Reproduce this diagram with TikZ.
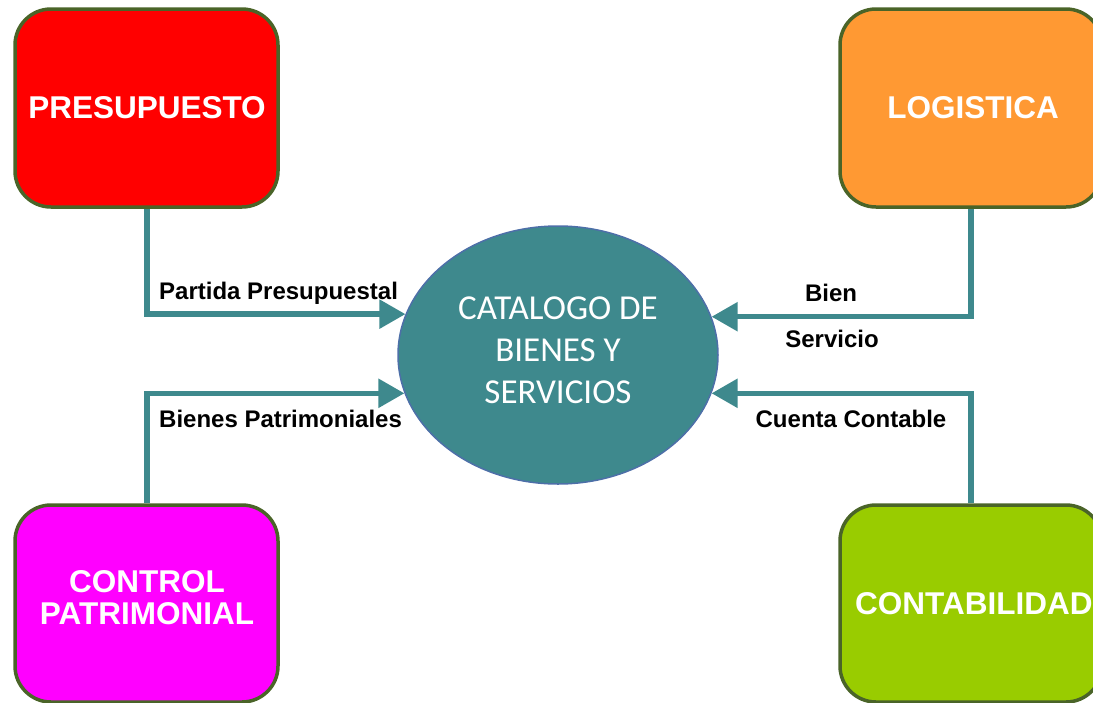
\documentclass[tikz,border=0pt]{standalone}
\usepackage{fontspec}
\setmainfont{Liberation Sans}
\newfontfamily\calib{Carlito}
\usetikzlibrary{shapes.geometric,arrows.meta}
\definecolor{boxborder}{HTML}{4A6428}
\definecolor{tealc}{HTML}{3E898D}
\definecolor{ellborder}{HTML}{4D6FA8}
\definecolor{orangec}{HTML}{FF9933}
\definecolor{greenc}{HTML}{99CC00}
\definecolor{magentac}{HTML}{FF00FF}
\definecolor{redc}{HTML}{FF0000}
\tikzset{
  unitbox/.style={draw=boxborder, line width=3.5pt, rounded corners=36pt},
  boxtext/.style={text=white, font=\bfseries\fontsize{31.5}{32}\selectfont, align=center, inner sep=0pt},
  conn/.style={draw=tealc, line width=5.5pt, -{Triangle[length=26pt,width=28pt]}},
  lbl/.style={font=\bfseries\fontsize{24}{26}\selectfont, inner sep=0pt, text=black},
}
\begin{document}
\begin{tikzpicture}[x=1pt,y=-1pt]
\useasboundingbox (0,0) rectangle (1093,702);
\begin{scope}
\clip (0,0) rectangle (1093,702);
\path[unitbox, fill=redc] (15,9) rectangle (278,207);
\node[boxtext] (pres) at (147,108) {PRESUPUESTO};
\path[unitbox, fill=orangec] (840,9) rectangle (1102,207);
\node[boxtext] (logi) at (973,108) {LOGISTICA};
\path[unitbox, fill=magentac] (15,505) rectangle (278,702);
\node[boxtext] (ctrl) at (147,598) {CONTROL\\PATRIMONIAL};
\path[unitbox, fill=greenc] (840,505) rectangle (1102,702);
\node[boxtext, anchor=west] (cont) at (855,604) {CONTABILIDAD};
\end{scope}
\coordinate (presS) at (147,209);
\coordinate (logiS) at (971,209);
\coordinate (ctrlN) at (147,503);
\coordinate (contN) at (971,503);
\node[ellipse, draw=ellborder, line width=1.5pt, fill=tealc, minimum width=320pt, minimum height=258pt,
  inner sep=0pt] (cat) at (558,355) {};
\node[text=white, align=center, inner sep=0pt, font=\calib\fontsize{35}{42}\selectfont] (cattext) at (558,350)
  {CATALOGO DE\\BIENES Y\\SERVICIOS};
\draw[conn] (presS) |- (cat.165.7);
\draw[conn] (ctrlN) |- (cat.194.2);
\draw[conn] (logiS) |- (cat.14.3);
\draw[conn] (contN) |- (cat.-14.2);
\node[lbl, anchor=west] (l1) at (159,293) {Partida Presupuestal};
\node[lbl, anchor=west] (l2) at (159,419) {Bienes Patrimoniales};
\node[lbl] (l3) at (831,293) {Bien};
\node[lbl] (l4) at (832,339) {Servicio};
\node[lbl] (l5) at (851,419) {Cuenta Contable};
\end{tikzpicture}
\end{document}
